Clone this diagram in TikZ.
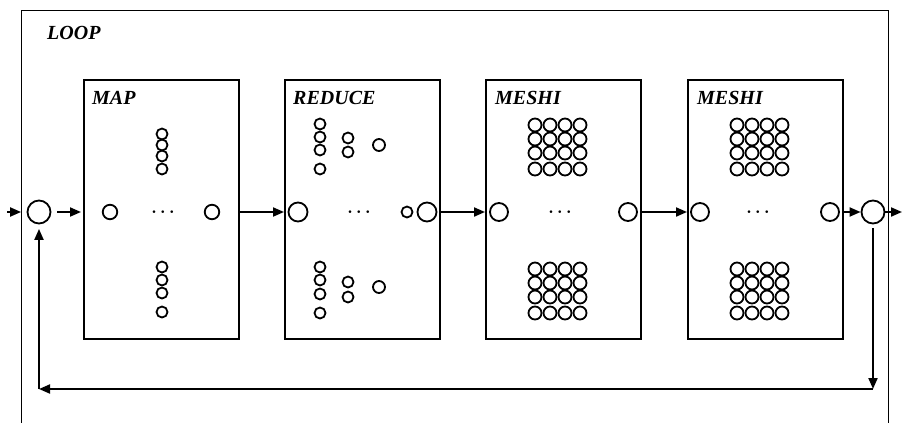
\documentclass[tikz,border=0pt]{standalone}
\usepackage{fontspec}
\setmainfont{Liberation Serif}
\usetikzlibrary{arrows.meta}

\begin{document}
\begin{tikzpicture}[x=1pt,y=-1pt,
  frame/.style={draw, line width=1pt},
  stage/.style={draw, rectangle, line width=1.6pt, inner sep=0pt,
    minimum width=155pt, minimum height=259pt, anchor=north west},
  lbl/.style={anchor=base west, inner sep=0pt,
    font=\bfseries\itshape\fontsize{20}{24}\selectfont},
  port/.style={draw, circle, line width=1.8pt, inner sep=0pt, minimum size=#1},
  port/.default=18pt,
  cell/.style={draw, circle, line width=1.8pt, inner sep=0pt, minimum size=#1},
  cell/.default=11pt,
  dots/.style={anchor=base, inner sep=0pt, font=\boldmath\fontsize{17}{17}\selectfont},
  arr/.style={line width=2pt, -{Triangle[length=11pt,width=9pt]}}
]
\useasboundingbox (0,0) rectangle (903,423);

% outer loop frame, open at the bottom
\draw[frame] (21,423) -- (21,10) -- (888,10) -- (888,423);
\node[lbl] (looplbl) at (47pt,-39pt) {LOOP};

% the four stages
\node[stage] (map)    at (83,79)  {};
\node[stage] (reduce) at (284,79) {};
\node[stage] (mesh1)  at (485,79) {};
\node[stage] (mesh2)  at (687,79) {};

\node[lbl] (maplbl)    at ([shift={(9pt,-25pt)}]map.north west)    {MAP};
\node[lbl] (reducelbl) at ([shift={(9pt,-25pt)}]reduce.north west) {REDUCE};
\node[lbl] (mesh1lbl)  at ([shift={(10pt,-25pt)}]mesh1.north west) {MESHI};
\node[lbl] (mesh2lbl)  at ([shift={(10pt,-25pt)}]mesh2.north west) {MESHI};

% loop entry and exit
\node[port=23pt] (loopin)  at (39,212)  {};
\node[port=23pt] (loopout) at (873,212) {};

% stage ports
\node[port=14.5pt] (mapin)  at (110,212) {};
\node[port=14.5pt] (mapout) at (212,212) {};
\node[port=19pt] (redin)   at (298,212) {};
\node[port=11pt] (redpart) at (407,212) {};
\node[port=19pt] (redout)  at (427,212) {};
\node[port] (m1in)  at (499,212) {};
\node[port] (m1out) at (628,212) {};
\node[port] (m2in)  at (700,212) {};
\node[port] (m2out) at (830,212) {};

\node[dots] (mapdots) at (163,216.3) {$\cdots$};
\node[dots] (reddots) at (359,216.3) {$\cdots$};
\node[dots] (m1dots)  at (560,216.3) {$\cdots$};
\node[dots] (m2dots)  at (758,216.3) {$\cdots$};

% MAP: one column above, one below
\foreach \y [count=\i] in {134,145,156,169}
  \node[cell] (mapt\i) at (162,\y) {};
\foreach \y [count=\i] in {267,280,293,312}
  \node[cell] (mapb\i) at (162,\y) {};

% REDUCE: columns shrinking 4 -> 2 -> 1
\foreach \y [count=\i] in {124,137,150,169}
  \node[cell] (redta\i) at (320,\y) {};
\foreach \y [count=\i] in {138,152}
  \node[cell] (redtb\i) at (348,\y) {};
\node[cell=12pt] (redtc1) at (379,145) {};
\foreach \y [count=\i] in {267,280,294,313}
  \node[cell] (redba\i) at (320,\y) {};
\foreach \y [count=\i] in {282,297}
  \node[cell] (redbb\i) at (348,\y) {};
\node[cell=12pt] (redbc1) at (379,287) {};

% MESHI: 4x4 grids above and below
\foreach \bx/\nm in {535/ma,737/mb}{
  \foreach \y [count=\r] in {125,139,153,169}
    \foreach \c in {1,...,4}
      \node[cell=13pt] (\nm t\r\c) at ({\bx+15*(\c-1)},\y) {};
  \foreach \y [count=\r] in {269,283,297,313}
    \foreach \c in {1,...,4}
      \node[cell=13pt] (\nm b\r\c) at ({\bx+15*(\c-1)},\y) {};
}

% forward flow
\coordinate (src) at (7,212);
\coordinate (sink) at (902,212);
\draw[arr, shorten >=5.5pt] (src) -- (loopin);
\draw[arr, shorten <=6pt, shorten >=2pt] (loopin) -- (loopin -| map.west);
\draw[arr] (map.east |- mapout) -- (reduce.west |- mapout);
\draw[arr] (reduce.east |- redout) -- (mesh1.west |- redout);
\draw[arr] (mesh1.east |- m1out) -- (mesh2.west |- m1out);
\draw[arr] (mesh2.east |- m2out) -- (loopout);
\draw[arr] (loopout) -- (sink);

% feedback path
\coordinate (fbR) at (873,389);
\coordinate (fbL) at (39,389);
\draw[arr, shorten <=4pt] (loopout) -- (fbR);
\draw[arr] (fbR) -- (fbL);
\draw[arr, shorten >=4.5pt] (fbL) -- (loopin);
\end{tikzpicture}
\end{document}
